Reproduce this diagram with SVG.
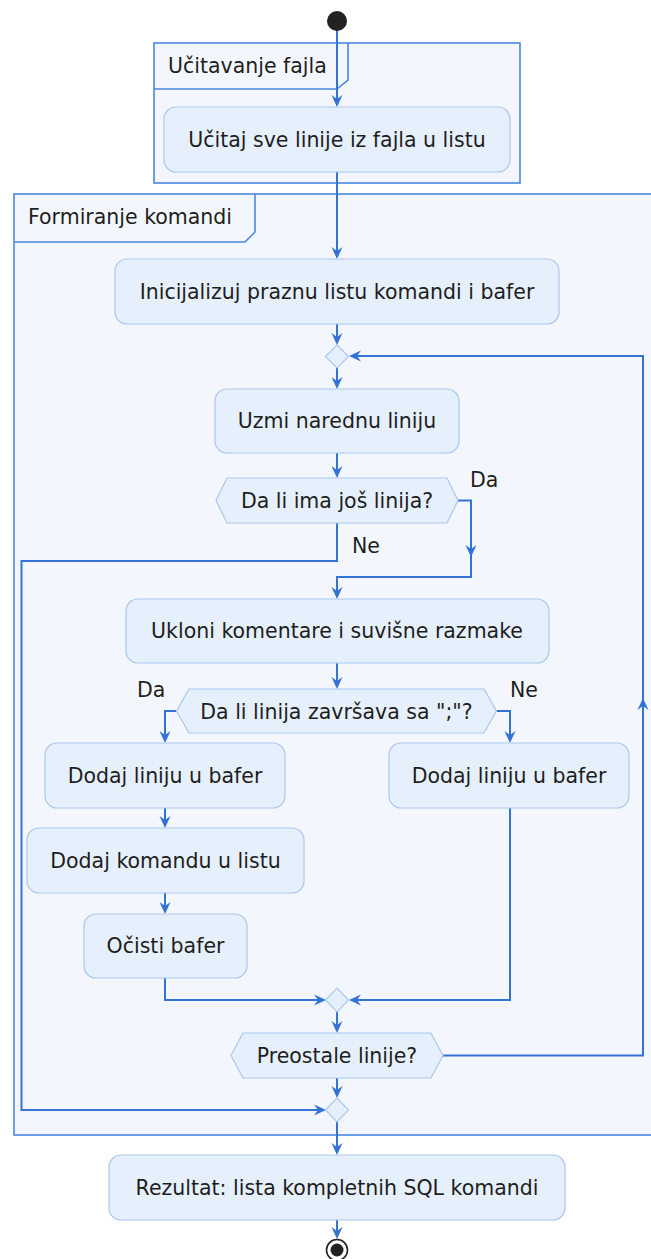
<svg xmlns="http://www.w3.org/2000/svg" xmlns:xlink="http://www.w3.org/1999/xlink" width="651" height="1259" viewBox="0 0 651 1259">
  <style>
    .part { fill: #f3f7fd; stroke: #4a87e0; stroke-width: 1.6; }
    .tab { fill: none; stroke: #4a87e0; stroke-width: 1.6; }
    .node { fill: #e6f0fc; stroke: #a9c7ee; stroke-width: 1.2; }
    .txt { font-family: "DejaVu Sans", sans-serif; font-size: 20.5px; fill: #1e1e1e; }
    .mid { text-anchor: middle; }
    .flow { fill: none; stroke: #3473d6; stroke-width: 2; stroke-linejoin: miter; }
    .head { fill: #3473d6; }
  </style>
  <defs>
    <!-- arrowhead pointing down, tip at origin -->
    <path id="ah" class="head" d="M0,0 L-5.5,-12 L0,-8 L5.5,-12 Z"/>
  </defs>

  <!-- swimlane partitions -->
  <g id="partition-ucitavanje">
    <rect class="part" x="154" y="43" width="366" height="140"/>
    <path class="tab" d="M154,89 L337,89 L348,80 L348,43"/>
    <text class="txt" x="168" y="73">Učitavanje fajla</text>
  </g>
  <g id="partition-formiranje">
    <rect class="part" x="14" y="194" width="640" height="941"/>
    <path class="tab" d="M14,242 L245,242 L255,232 L255,194"/>
    <text class="txt" x="28" y="224">Formiranje komandi</text>
  </g>

  <!-- connectors -->
  <g id="connectors">
    <path class="flow" d="M337,30 V100"/>
    <path class="flow" d="M337,172 V252"/>
    <path class="flow" d="M337,324 V338"/>
    <path class="flow" d="M337,368 V382"/>
    <path class="flow" d="M337,453 V471"/>
    <!-- Da branch of first check -->
    <path class="flow" d="M458,500.5 H471 V577 H337 V592"/>
    <!-- Ne branch of first check, straight to the end merge -->
    <path class="flow" d="M337,523 V561 H21.5 V1110 H319"/>
    <path class="flow" d="M337,663 V682"/>
    <path class="flow" d="M176.5,711 H165 V736"/>
    <path class="flow" d="M496.5,711 H510 V736"/>
    <path class="flow" d="M165,808 V821"/>
    <path class="flow" d="M165,893 V907"/>
    <path class="flow" d="M165,978 V1000 H319"/>
    <path class="flow" d="M510,808 V1000 H356"/>
    <path class="flow" d="M337,1012 V1026"/>
    <!-- loop back to the top merge -->
    <path class="flow" d="M443,1055.5 H643 V356 H356"/>
    <path class="flow" d="M337,1078 V1091"/>
    <path class="flow" d="M337,1122 V1148"/>
    <path class="flow" d="M337,1220 V1232"/>

    <use xlink:href="#ah" transform="translate(337,107)"/>
    <use xlink:href="#ah" transform="translate(337,259)"/>
    <use xlink:href="#ah" transform="translate(337,345)"/>
    <use xlink:href="#ah" transform="translate(349,356) rotate(90)"/>
    <use xlink:href="#ah" transform="translate(337,389)"/>
    <use xlink:href="#ah" transform="translate(337,478)"/>
    <use xlink:href="#ah" transform="translate(471,557)"/>
    <use xlink:href="#ah" transform="translate(337,599)"/>
    <use xlink:href="#ah" transform="translate(337,689)"/>
    <use xlink:href="#ah" transform="translate(165,743)"/>
    <use xlink:href="#ah" transform="translate(510,743)"/>
    <use xlink:href="#ah" transform="translate(165,828)"/>
    <use xlink:href="#ah" transform="translate(165,914)"/>
    <use xlink:href="#ah" transform="translate(326,1000) rotate(-90)"/>
    <use xlink:href="#ah" transform="translate(349,1000) rotate(90)"/>
    <use xlink:href="#ah" transform="translate(337,1033)"/>
    <use xlink:href="#ah" transform="translate(643,698) rotate(180)"/>
    <use xlink:href="#ah" transform="translate(337,1098)"/>
    <use xlink:href="#ah" transform="translate(326,1110) rotate(-90)"/>
    <use xlink:href="#ah" transform="translate(337,1155)"/>
    <use xlink:href="#ah" transform="translate(337,1239)"/>
  </g>

  <!-- start / end -->
  <g id="start">
    <circle cx="337" cy="21" r="10" fill="#222"/>
  </g>
  <g id="end">
    <circle cx="337" cy="1250" r="10.5" fill="#fff" stroke="#222" stroke-width="1.6"/>
    <circle cx="337" cy="1250" r="6.5" fill="#222"/>
  </g>

  <!-- activities -->
  <g id="ucitaj">
    <rect class="node" x="164" y="107" width="346" height="65" rx="12"/>
    <text class="txt mid" x="337" y="147">Učitaj sve linije iz fajla u listu</text>
  </g>
  <g id="inicijalizuj">
    <rect class="node" x="115" y="259" width="444" height="65" rx="12"/>
    <text class="txt mid" x="337" y="299">Inicijalizuj praznu listu komandi i bafer</text>
  </g>
  <g id="merge-top">
    <polygon class="node" points="337,345 348.5,356.5 337,368 325.5,356.5"/>
  </g>
  <g id="uzmi">
    <rect class="node" x="215" y="389" width="244" height="64" rx="12"/>
    <text class="txt mid" x="337" y="428">Uzmi narednu liniju</text>
  </g>
  <g id="check-more">
    <polygon class="node" points="216,500.5 227,478 447,478 458,500.5 447,523 227,523"/>
    <text class="txt mid" x="337" y="508">Da li ima još linija?</text>
    <text class="txt" x="470" y="487">Da</text>
    <text class="txt" x="352" y="553">Ne</text>
  </g>
  <g id="ukloni">
    <rect class="node" x="126" y="599" width="423" height="64" rx="12"/>
    <text class="txt mid" x="337" y="638">Ukloni komentare i suvišne razmake</text>
  </g>
  <g id="check-end">
    <polygon class="node" points="176.5,711 189,689 484,689 496.5,711 484,733 189,733"/>
    <text class="txt mid" x="336.5" y="718.5">Da li linija završava sa ";"?</text>
    <text class="txt" x="137" y="697">Da</text>
    <text class="txt" x="510" y="697">Ne</text>
  </g>
  <g id="dodaj-liniju-da">
    <rect class="node" x="45" y="743" width="240" height="65" rx="12"/>
    <text class="txt mid" x="165" y="783">Dodaj liniju u bafer</text>
  </g>
  <g id="dodaj-liniju-ne">
    <rect class="node" x="389" y="743" width="240" height="65" rx="12"/>
    <text class="txt mid" x="509" y="783">Dodaj liniju u bafer</text>
  </g>
  <g id="dodaj-komandu">
    <rect class="node" x="27" y="828" width="277" height="65" rx="12"/>
    <text class="txt mid" x="165.5" y="868">Dodaj komandu u listu</text>
  </g>
  <g id="ocisti">
    <rect class="node" x="84" y="914" width="163" height="64" rx="12"/>
    <text class="txt mid" x="165.5" y="953">Očisti bafer</text>
  </g>
  <g id="merge-branches">
    <polygon class="node" points="337,988 348.5,1000 337,1012 325.5,1000"/>
  </g>
  <g id="check-remaining">
    <polygon class="node" points="231,1055.5 243,1033 431,1033 443,1055.5 431,1078 243,1078"/>
    <text class="txt mid" x="337" y="1063">Preostale linije?</text>
  </g>
  <g id="merge-end">
    <polygon class="node" points="337,1098 348.5,1110 337,1122 325.5,1110"/>
  </g>
  <g id="rezultat">
    <rect class="node" x="109" y="1155" width="456" height="65" rx="12"/>
    <text class="txt mid" x="337" y="1195">Rezultat: lista kompletnih SQL komandi</text>
  </g>
</svg>
